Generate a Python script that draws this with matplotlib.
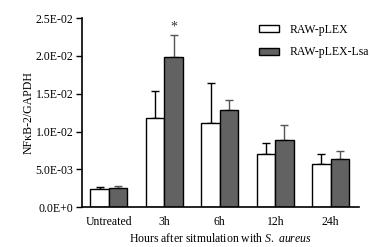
import matplotlib
matplotlib.use('Agg')
import matplotlib.pyplot as plt
import numpy as np

groups = ['Untreated', '3h', '6h', '12h', '24h']
plex = [0.00235, 0.0118, 0.0111, 0.0070, 0.00565]
plex_err = [0.00034, 0.0036, 0.0053, 0.0015, 0.0014]
lsa = [0.00248, 0.0198, 0.0129, 0.0089, 0.0064]
lsa_err = [0.00039, 0.0030, 0.0013, 0.0019, 0.0010]
tick_vals = [0, 0.005, 0.01, 0.015, 0.02, 0.025]
tick_labels = ['0.0E+0', '5.0E-03', '1.0E-02', '1.5E-02', '2.0E-02', '2.5E-02']

plt.rcParams['font.family'] = ['Liberation Serif', 'DejaVu Serif']
plt.rcParams['mathtext.fontset'] = 'custom'
plt.rcParams['mathtext.rm'] = 'Liberation Serif'
plt.rcParams['mathtext.it'] = 'Liberation Serif:italic'

fs = 8.5

fig = plt.figure(figsize=(3.72, 2.47), dpi=100)
ax = fig.add_axes([0.220, 0.161, 0.745, 0.766])

x = np.arange(len(groups))
w = 0.333

ax.bar(x - w / 2, plex, w, color='white', edgecolor='black', linewidth=1.0,
       label='RAW-pLEX', zorder=2)
ax.bar(x + w / 2, lsa, w, color='#626262', edgecolor='black', linewidth=1.0,
       label='RAW-pLEX-Lsa', zorder=2)

# upward-only error bars
ax.errorbar(x - w / 2, plex, yerr=[np.zeros(len(plex)), plex_err], fmt='none',
            ecolor='black', elinewidth=1.0, capsize=3, capthick=1.0, zorder=1)
ax.errorbar(x + w / 2, lsa, yerr=[np.zeros(len(lsa)), lsa_err], fmt='none',
            ecolor='#555555', elinewidth=1.0, capsize=3, capthick=1.0, zorder=1)

ax.text(x[1] + w / 2, lsa[1] + lsa_err[1] + 0.0002, '*', ha='center', va='bottom',
        fontsize=10, color='#333344')

ax.set_xlim(-0.486, 4.51)
ax.set_ylim(0, 0.025)
ax.set_yticks(tick_vals)
ax.set_yticklabels(tick_labels, fontsize=fs)
ax.set_xticks(x)
ax.set_xticklabels(groups, fontsize=fs)
ax.tick_params(axis='x', length=0, pad=6)
ax.tick_params(axis='y', length=4, width=1, direction='out', pad=2)

for s in ['top', 'right']:
    ax.spines[s].set_visible(False)
for s in ['left', 'bottom']:
    ax.spines[s].set_linewidth(1.2)

ax.set_ylabel('NFκB-2/GAPDH', fontsize=fs, labelpad=1)
ax.set_xlabel('Hours after sitmulation with $\\mathit{S.}$ $\\mathit{aureus}$', fontsize=fs, labelpad=3)

ax.legend(loc='upper left', bbox_to_anchor=(0.64, 0.97), bbox_transform=ax.transAxes,
          frameon=False, fontsize=fs, handlelength=1.7, handleheight=0.55,
          labelspacing=0.9, handletextpad=0.9, borderaxespad=0, borderpad=0)

fig.savefig('out.png', dpi=100)
